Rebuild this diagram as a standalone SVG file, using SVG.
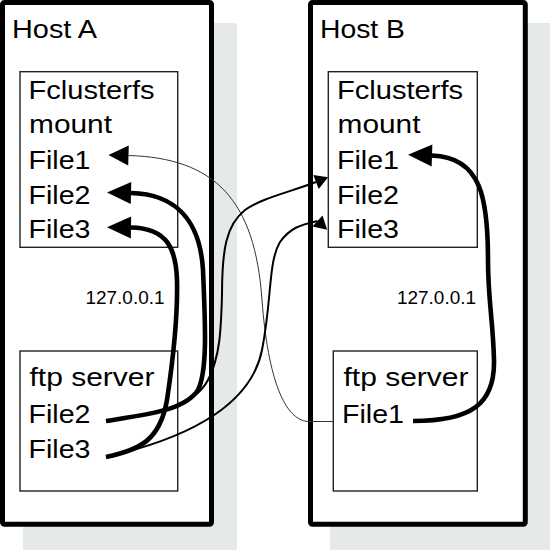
<svg xmlns="http://www.w3.org/2000/svg" xmlns:xlink="http://www.w3.org/1999/xlink" width="550" height="550" viewBox="0 0 550 550">
  <style>
    .shadow { fill: #e6e9e9; stroke: none; }
    .host { fill: #ffffff; stroke: #000; stroke-width: 5; stroke-linejoin: round; }
    .box { fill: none; stroke: #222; stroke-width: 1.4; }
    .t { font-family: "Liberation Sans", Arial, sans-serif; font-size: 26px; fill: #000; }
    .ip { font-family: "Liberation Sans", Arial, sans-serif; font-size: 19px; fill: #000; }
    .thick { fill: none; stroke: #000; stroke-width: 4.6; }
    .medium { fill: none; stroke: #000; stroke-width: 2; }
    .thin { fill: none; stroke: #333; stroke-width: 1; }
  </style>
  <defs>
    <marker id="arrowBig" markerUnits="userSpaceOnUse" markerWidth="30" markerHeight="30" refX="0" refY="0" orient="auto" overflow="visible">
      <path d="M0,-11 L24,0 L0,11 Z" fill="#000"/>
    </marker>
    <marker id="arrowMid" markerUnits="userSpaceOnUse" markerWidth="30" markerHeight="30" refX="0" refY="0" orient="auto" overflow="visible">
      <path d="M0,-10 L20,0 L0,10 Z" fill="#000"/>
    </marker>
    <path id="smallTri" d="M0,-7.5 L13,0 L0,7.5 Z" fill="#000"/>
    <marker id="arrowSmall" markerUnits="userSpaceOnUse" markerWidth="20" markerHeight="20" refX="0" refY="0" orient="auto" overflow="visible">
      <use xlink:href="#smallTri"/>
    </marker>
    <marker id="arrowSmallDown" markerUnits="userSpaceOnUse" markerWidth="20" markerHeight="20" refX="0" refY="0" orient="42" overflow="visible">
      <use xlink:href="#smallTri"/>
    </marker>
  </defs>

  <g id="host-a">
    <rect class="shadow" x="23" y="23" width="214" height="530" rx="3"/>
    <rect class="host" x="2.5" y="2.5" width="209" height="521.7" rx="2"/>
    <text class="t" x="12" y="38" textLength="85" lengthAdjust="spacingAndGlyphs">Host A</text>
    <text class="ip" x="85.5" y="304.3" textLength="79" lengthAdjust="spacingAndGlyphs">127.0.0.1</text>
  </g>

  <g id="host-b">
    <rect class="shadow" x="330" y="23" width="225" height="530" rx="3"/>
    <rect class="host" x="310.5" y="2.5" width="214.8" height="521.7" rx="2"/>
    <text class="t" x="320" y="38" textLength="85" lengthAdjust="spacingAndGlyphs">Host B</text>
    <text class="ip" x="397" y="304.3" textLength="79" lengthAdjust="spacingAndGlyphs">127.0.0.1</text>
  </g>

  <g id="mount-a">
    <rect class="box" x="20" y="71.7" width="157.7" height="175.6"/>
    <text class="t" x="28.5" y="98.7" textLength="126" lengthAdjust="spacingAndGlyphs">Fclusterfs</text>
    <text class="t" x="29" y="133" textLength="83" lengthAdjust="spacingAndGlyphs">mount</text>
    <text class="t" x="28.5" y="169" textLength="62" lengthAdjust="spacingAndGlyphs">File1</text>
    <text class="t" x="28.5" y="203.5" textLength="62" lengthAdjust="spacingAndGlyphs">File2</text>
    <text class="t" x="28.5" y="238" textLength="62" lengthAdjust="spacingAndGlyphs">File3</text>
  </g>

  <g id="mount-b">
    <rect class="box" x="328.3" y="71.7" width="149" height="175.6"/>
    <text class="t" x="337" y="98.7" textLength="126" lengthAdjust="spacingAndGlyphs">Fclusterfs</text>
    <text class="t" x="337.5" y="133" textLength="83" lengthAdjust="spacingAndGlyphs">mount</text>
    <text class="t" x="337" y="169" textLength="62" lengthAdjust="spacingAndGlyphs">File1</text>
    <text class="t" x="337" y="203.5" textLength="62" lengthAdjust="spacingAndGlyphs">File2</text>
    <text class="t" x="337" y="238" textLength="62" lengthAdjust="spacingAndGlyphs">File3</text>
  </g>

  <g id="ftp-a">
    <rect class="box" x="20" y="351" width="157.7" height="140"/>
    <text class="t" x="29.5" y="386" textLength="125" lengthAdjust="spacingAndGlyphs">ftp server</text>
    <text class="t" x="28.5" y="422.7" textLength="62" lengthAdjust="spacingAndGlyphs">File2</text>
    <text class="t" x="28.5" y="458.3" textLength="62" lengthAdjust="spacingAndGlyphs">File3</text>
  </g>

  <g id="ftp-b">
    <rect class="box" x="333.3" y="351" width="144" height="140"/>
    <text class="t" x="343.5" y="386" textLength="125" lengthAdjust="spacingAndGlyphs">ftp server</text>
    <text class="t" x="342" y="422.7" textLength="62" lengthAdjust="spacingAndGlyphs">File1</text>
  </g>

  <g id="connectors">
    <path class="thin" d="M333.3,421.5 L308,421.5 C285,420 268,380 262,300 C255,200 215,158 128.5,155.5" marker-end="url(#arrowMid)"/>
    <path class="thick" d="M413,421 C470,421 495,405 494,360 C493,320 488,300 488,260 C488,200 482,157 432,155.5" marker-end="url(#arrowBig)"/>
    <path class="thick" d="M106,421 C150,414 185,410 198,390 C208,370 205,320 203,270 C200,220 175,194 131,193" marker-end="url(#arrowBig)"/>
    <path class="thick" d="M106,457 C140,450 160,440 167,400 C173,360 178,320 177,280 C176,250 168,228 131,227.5" marker-end="url(#arrowBig)"/>
    <path class="medium" d="M106,421 C160,414 195,405 208,380 C220,357 221,330 222,295 C222,250 226,225 245,210 C262,198 290,192 316,182" marker-end="url(#arrowSmall)"/>
    <path class="medium" d="M106,457 C180,440 250,410 262,350 C272,300 268,262 280,242 C290,228 300,225 317.5,221" marker-end="url(#arrowSmallDown)"/>
  </g>
</svg>
